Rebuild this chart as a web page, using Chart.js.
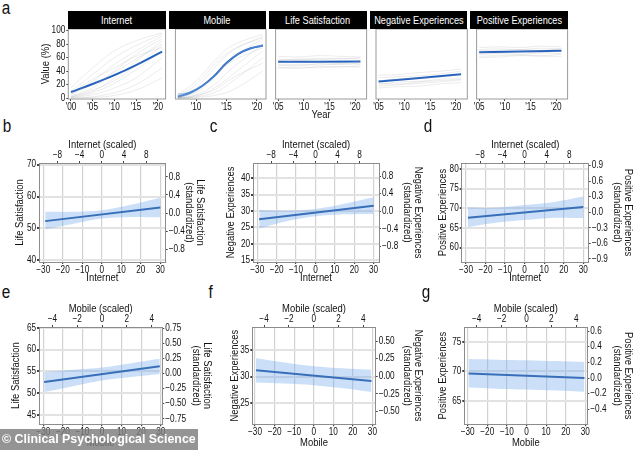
<!DOCTYPE html>
<html>
<head>
<meta charset="utf-8">
<script src="https://cdn.jsdelivr.net/npm/chart.js@4.4.0/dist/chart.umd.min.js"></script>
<style>
  body { margin: 0; background: #fff; }
  #fig { position: relative; width: 634px; height: 450px; overflow: hidden; background: #fff;
         font-family: 'Liberation Sans', Arial, sans-serif; }
  #fig canvas { position: absolute; }
  .hdr { position: absolute; top: 11px; height: 18px; background: #000; color: #fff;
         font-size: 11.5px; line-height: 18px; white-space: nowrap;
         display: flex; justify-content: center; }
  .hdr span { flex-shrink: 0; display: inline-block; transform: scaleX(0.8); }
  .letter span { display: inline-block; transform: scaleX(0.85); }
  .letter { position: absolute; font-size: 18px; color: #111; line-height: 1; }
  .wm { position: absolute; height: 21px; background: rgba(125,125,125,0.82);
        color: #fff; font: bold 12.4px 'Liberation Sans', Arial, sans-serif; line-height: 21px; padding-left: 2px;
        white-space: nowrap; box-sizing: border-box; }
</style>
</head>
<body>
<div id="fig"></div>
<script>
// ---------- panel a: yearly country trajectories + overall trend ----------
const trendTitles = ['Internet', 'Mobile', 'Life Satisfaction', 'Negative Experiences', 'Positive Experiences'];
const valueTicks = [0, 20, 40, 60, 80, 100];
const internetYearTicks = [2000, 2005, 2010, 2015, 2020];
const mobileYearTicks = [2010, 2015, 2020];
const wellbeingYearTicks = [2005, 2010, 2015, 2020];

const internetYears = [2000, 2005, 2010, 2015, 2021];
const internetTrend = [9, 21, 34, 49, 69];
const internetCountries = [
  [2, 10, 30, 55, 85], [5, 25, 50, 70, 92], [10, 35, 60, 78, 95], [1, 5, 15, 30, 60],
  [0, 2, 8, 20, 45], [3, 15, 40, 65, 88], [15, 45, 70, 85, 97], [0, 1, 4, 12, 30],
  [6, 20, 38, 58, 80], [1, 8, 22, 42, 70], [8, 28, 45, 62, 75], [2, 12, 26, 48, 78]
];

const mobileYears = [2007, 2009, 2011, 2013, 2015, 2017, 2019, 2021];
const mobileTrend = [2, 8, 18, 33, 52, 66, 74, 78];
const mobileUpper = [7, 10, 19, 34, 53, 67, 75, 80];
const mobileLower = [-1, 6, 17, 32, 51, 65, 73, 76];
const mobileCountryYears = [2007, 2010, 2013, 2016, 2021];
const mobileCountries = [
  [0, 5, 20, 45, 80], [2, 15, 45, 70, 92], [0, 2, 8, 25, 60], [5, 25, 55, 78, 95],
  [0, 1, 4, 12, 40], [1, 8, 30, 60, 88], [0, 3, 15, 35, 70], [3, 20, 50, 72, 90],
  [1, 10, 35, 55, 75], [0, 4, 12, 30, 52]
];

const wellbeingYears = [2005, 2009, 2013, 2017, 2021];
const trendEnds = [2005, 2021];
const lifeSatTrend = [53.8, 54.2];
const negativeTrend = [24.6, 35.3];
const positiveTrend = [68, 70.4];
const lifeSatCountries = [
  [48, 50, 49, 51, 50], [58, 57, 59, 58, 60], [44, 46, 45, 47, 46], [62, 61, 63, 62, 61],
  [53, 55, 54, 52, 55], [50, 48, 51, 50, 52], [56, 58, 57, 59, 58], [46, 44, 47, 46, 48]
];
const negativeCountries = [
  [18, 20, 22, 24, 27], [30, 32, 33, 36, 40], [22, 21, 24, 26, 28], [26, 28, 30, 31, 35],
  [15, 17, 18, 21, 23], [34, 35, 38, 40, 43], [20, 24, 25, 28, 30]
];
const positiveCountries = [
  [72, 73, 72, 74, 73], [62, 63, 64, 63, 65], [68, 67, 69, 68, 70], [75, 76, 75, 77, 76],
  [65, 66, 65, 67, 66], [70, 71, 72, 71, 73], [60, 61, 63, 62, 62]
];

// ---------- panels b-g: predicted wellbeing by technology use ----------
const internetTicks = [-30, -20, -10, 0, 10, 20, 30];
const internetScaledTicks = [-8, -4, 0, 4, 8];
const mobileTicks = [-30, -20, -10, 0, 10, 20, 30];
const mobileScaledTicks = [-4, -2, 0, 2, 4];
const internetSD = 2.85;
const mobileSD = 6.35;

const internetFitX = [-29, 30];
const internetBandX = [-29, -15, 0, 15, 30];
const mobileFitX = [-29.5, 29.5];
const mobileBandX = [-29.5, -15, 0, 15, 29.5];

// b: life satisfaction ~ internet
const lifeSatInternetFit = [52.3, 56.6];
const lifeSatInternetUpper = [55.2, 55.2, 55.7, 57.4, 59.6];
const lifeSatInternetLower = [49.7, 51.4, 53.1, 53.6, 53.5];
// c: negative experiences ~ internet
const negInternetFit = [27.5, 31.6];
const negInternetUpper = [30.3, 30.1, 30.6, 32.2, 34.2];
const negInternetLower = [24.7, 26.9, 28.4, 29.0, 29.1];
// d: positive experiences ~ internet
const posInternetFit = [67.6, 70.3];
const posInternetUpper = [70.2, 70.1, 70.8, 71.6, 73.0];
const posInternetLower = [65.2, 66.3, 67.0, 67.6, 67.5];
// e: life satisfaction ~ mobile
const lifeSatMobileFit = [52.55, 56.2];
const lifeSatMobileUpper = [54.85, 55.4, 55.9, 56.9, 57.9];
const lifeSatMobileLower = [50.25, 51.6, 52.9, 53.7, 54.4];
// f: negative experiences ~ mobile
const negMobileFit = [31.2, 29.2];
const negMobileUpper = [33.5, 32.7, 32.0, 31.6, 31.3];
const negMobileLower = [28.9, 28.7, 28.4, 27.8, 27.1];
// g: positive experiences ~ mobile
const posMobileFit = [69.65, 68.9];
const posMobileUpper = [72.1, 72.0, 71.9, 71.75, 71.6];
const posMobileLower = [67.3, 67.1, 66.95, 66.8, 66.6];

// outcome axis ticks, and centre / SD used for the standardized axis
const lifeSatTicks1 = [40, 50, 60, 70];
const negTicks1 = [15, 20, 25, 30, 35, 40];
const posTicks1 = [60, 65, 70, 75, 80];
const lifeSatTicks2 = [45, 50, 55, 60, 65];
const negTicks2 = [25, 30, 35];
const posTicks2 = [65, 70, 75];
const zTicksWide = [-0.8, -0.4, 0, 0.4, 0.8];
const zTicksPos1 = [-0.9, -0.6, -0.3, 0, 0.3, 0.6, 0.9];
const zTicksLife2 = [-0.75, -0.5, -0.25, 0, 0.25, 0.5, 0.75];
const zTicksNeg2 = [-0.5, -0.25, 0, 0.25, 0.5];
const zTicksPos2 = [-0.4, -0.2, 0, 0.2, 0.4, 0.6];
const outcomeCentre = [54.8, 29.9, 69.0, 54.5, 30.1, 68.9];
const outcomeSD = [14.2, 13.4, 13.2, 13.85, 13.3, 13.2];

// ---------- helpers ----------
Chart.defaults.font.family = "'Liberation Sans', Arial, sans-serif";
Chart.defaults.font.size = 10;
Chart.defaults.color = '#111';

const BAND = 'rgba(110, 170, 235, 0.36)';
const LINE = '#1a4f9c';
const TREND = '#1f5fbf';
const EDGE = '#8c8c8c';
const GREY = 'rgba(165, 165, 165, 0.3)';

// no condensed face is installed, so squeeze canvas text sideways
const SQUEEZE = 0.82;
Chart.register({
  id: 'narrowText',
  beforeInit(chart) {
    const ctx = chart.ctx;
    const fill = ctx.fillText.bind(ctx);
    const measure = ctx.measureText.bind(ctx);
    ctx.fillText = (text, x, y) => {
      ctx.save();
      ctx.translate(x, y);
      ctx.scale(SQUEEZE, 1);
      fill(text, 0, 0);
      ctx.restore();
    };
    ctx.measureText = text => {
      const m = measure(text);
      return { width: m.width * SQUEEZE,
               actualBoundingBoxAscent: m.actualBoundingBoxAscent,
               actualBoundingBoxDescent: m.actualBoundingBoxDescent };
    };
  }
});

const fig = document.getElementById('fig');

function pairs(xs, ys) {
  return xs.map((x, i) => ({ x: x, y: ys[i] }));
}
function setTicks(values) {
  return s => { s.ticks = values.map(v => ({ value: v })); };
}
function fitTo(size) {
  return s => {
    if (s.isHorizontal()) s.height = size; else s.width = size;
    s.paddingLeft = s.paddingRight = s.paddingTop = s.paddingBottom = 0;
  };
}
function fmt(digits) {
  return v => (v < 0 ? '\u2212' : '') + Math.abs(v).toFixed(digits);
}
function addCanvas(box) {
  const c = document.createElement('canvas');
  c.width = box[2] - box[0];
  c.height = box[3] - box[1];
  c.style.left = box[0] + 'px';
  c.style.top = box[1] + 'px';
  fig.appendChild(c);
  return c;
}
function addDiv(cls, text, left, top, width, squeeze) {
  const d = document.createElement('div');
  d.className = cls;
  d.style.left = left + 'px';
  d.style.top = top + 'px';
  if (width) d.style.width = width + 'px';
  if (squeeze) {
    const s = document.createElement('span');
    s.textContent = text;
    d.appendChild(s);
  } else {
    d.textContent = text;
  }
  fig.appendChild(d);
  return d;
}

// draws the grey box around a facet
const frame = {
  id: 'frame',
  afterDatasetsDraw(chart, args, opts) {
    const a = chart.chartArea, ctx = chart.ctx;
    ctx.save();
    ctx.strokeStyle = opts.color || EDGE;
    ctx.lineWidth = 1;
    ctx.strokeRect(a.left, a.top, a.right - a.left, a.bottom - a.top);
    ctx.restore();
  }
};

// ---------- panel a ----------
const aPlotLeft = [68.3, 168.7, 269.3, 370, 470.3];
const aPlotWidth = 97.3;
const aTop = 22, aPlotTop = 29, aPlotBottom = 99, aBottom = 122;

function trendPanel(i, xRange, xTicks, countryYears, countries, trendX, trend, band) {
  const left = aPlotLeft[i], right = left + aPlotWidth;
  const first = i === 0;
  const box = [first ? 39 : Math.floor(left) - 6, aTop, Math.ceil(right) + 6, aBottom];

  const datasets = countries.map(c => ({
    data: pairs(countryYears, c), borderColor: GREY, borderWidth: 0.7,
    pointRadius: 0, tension: 0.4, fill: false
  }));
  if (band) {
    datasets.push({ data: pairs(trendX, band[0]), borderWidth: 0, pointRadius: 0, tension: 0.4,
                    fill: '+1', backgroundColor: 'rgba(110, 170, 235, 0.5)' });
    datasets.push({ data: pairs(trendX, band[1]), borderWidth: 0, pointRadius: 0, tension: 0.4, fill: false });
  }
  datasets.push({ data: pairs(trendX, trend), borderColor: TREND, borderWidth: 2,
                  pointRadius: 0, tension: 0.4, fill: false });

  new Chart(addCanvas(box), {
    type: 'line',
    data: { datasets: datasets },
    plugins: [frame],
    options: {
      responsive: false, animation: false, events: [],
      layout: { padding: { top: aPlotTop - aTop, left: first ? 0 : left - box[0], right: box[2] - right, bottom: 0 } },
      plugins: { legend: { display: false }, tooltip: { enabled: false }, frame: { color: '#9a9a9a' } },
      scales: {
        x: {
          type: 'linear', min: xRange[0], max: xRange[1],
          afterBuildTicks: setTicks(xTicks), afterFit: fitTo(aBottom - aPlotBottom),
          grid: { drawOnChartArea: false, tickLength: 2, tickColor: '#444' },
          border: { display: false },
          ticks: { callback: v => "'" + String(v).slice(2), padding: 0, maxRotation: 0, autoSkip: false },
          title: { display: i === 2, text: 'Year', padding: 0, font: { size: 11.5 } }
        },
        y: {
          display: first, min: -1.3, max: 102.5,
          afterBuildTicks: setTicks(valueTicks), afterFit: fitTo(left - box[0]),
          grid: { drawOnChartArea: false, tickLength: 2, tickColor: '#444' },
          border: { display: false },
          ticks: { padding: 1, autoSkip: false },
          title: { display: true, text: 'Value (%)', padding: 0, font: { size: 11.5 } }
        }
      }
    }
  });
  addDiv('hdr', trendTitles[i], left, 11, aPlotWidth, true);
}

trendPanel(0, [1999.4, 2021.8], internetYearTicks, internetYears, internetCountries, internetYears, internetTrend);
trendPanel(1, [2006.6, 2021.5], mobileYearTicks, mobileCountryYears, mobileCountries, mobileYears, mobileTrend, [mobileUpper, mobileLower]);
trendPanel(2, [2004.5, 2022.2], wellbeingYearTicks, wellbeingYears, lifeSatCountries, trendEnds, lifeSatTrend);
trendPanel(3, [2004.5, 2022.2], wellbeingYearTicks, wellbeingYears, negativeCountries, trendEnds, negativeTrend);
trendPanel(4, [2004.5, 2022.2], wellbeingYearTicks, wellbeingYears, positiveCountries, trendEnds, positiveTrend);

// ---------- panels b-g ----------
function regressionPanel(p) {
  const [cl, ct, cr, cb] = p.canvas;
  const [pl, pt, pr, pb] = p.plot;
  const tickCfg = { padding: 0, maxRotation: 0, autoSkip: false };
  new Chart(addCanvas(p.canvas), {
    type: 'line',
    data: {
      datasets: [
        { data: pairs(p.bandX, p.upper), xAxisID: 'x', yAxisID: 'y', borderWidth: 0, pointRadius: 0,
          tension: 0.3, fill: '+1', backgroundColor: BAND },
        { data: pairs(p.bandX, p.lower), xAxisID: 'x', yAxisID: 'y', borderWidth: 0, pointRadius: 0,
          tension: 0.3, fill: false },
        { data: pairs(p.fitX, p.fit), xAxisID: 'x', yAxisID: 'y', borderColor: LINE, borderWidth: 2,
          pointRadius: 0, fill: false }
      ]
    },
    options: {
      responsive: false, animation: false, events: [],
      plugins: { legend: { display: false }, tooltip: { enabled: false } },
      scales: {
        x: {
          type: 'linear', position: 'bottom', min: p.xr[0], max: p.xr[1],
          afterBuildTicks: setTicks(p.xTicks), afterFit: fitTo(cb - pb),
          grid: { color: '#d2d2d2', lineWidth: 1.2, tickLength: 2, tickColor: '#444' },
          border: { color: EDGE },
          ticks: Object.assign({ callback: fmt(0) }, tickCfg),
          title: { display: true, text: p.xName, padding: 0, font: { size: 11.5 } }
        },
        x2: {
          type: 'linear', position: 'top', min: p.xr[0] / p.k, max: p.xr[1] / p.k,
          afterBuildTicks: setTicks(p.scaledTicks), afterFit: fitTo(pt - ct),
          grid: { drawOnChartArea: false, tickLength: 2, tickColor: '#444' },
          border: { color: EDGE },
          ticks: Object.assign({ callback: fmt(0) }, tickCfg),
          title: { display: true, text: p.xName + ' (scaled)', padding: 0, font: { size: 11.5 } }
        },
        y: {
          position: 'left', min: p.yr[0], max: p.yr[1],
          afterBuildTicks: setTicks(p.yTicks), afterFit: fitTo(pl - cl),
          grid: { color: '#e2e2e2', lineWidth: 2, tickLength: 2, tickColor: '#444' },
          border: { color: EDGE },
          ticks: { callback: fmt(0), padding: 1, autoSkip: false },
          title: { display: true, text: p.yName, padding: 0, font: { size: 11.5 } }
        },
        y2: {
          position: 'right', min: (p.yr[0] - p.centre) / p.sd, max: (p.yr[1] - p.centre) / p.sd,
          afterBuildTicks: setTicks(p.zTicks), afterFit: fitTo(cr - pr),
          grid: { drawOnChartArea: false, tickLength: 2, tickColor: '#444' },
          border: { color: EDGE },
          ticks: { callback: fmt(p.zDigits), padding: 1, autoSkip: false },
          title: { display: true, text: [p.yName, '(standardized)'], padding: 0, font: { size: 11.5, lineHeight: 1.0 } }
        }
      }
    }
  });
}

const outcomeNames = trendTitles.slice(2);
const internetPanel = { xName: 'Internet', xTicks: internetTicks, scaledTicks: internetScaledTicks, k: internetSD,
                        xr: [-32.2, 32.8], fitX: internetFitX, bandX: internetBandX };
const mobilePanel = { xName: 'Mobile', xTicks: mobileTicks, scaledTicks: mobileScaledTicks, k: mobileSD,
                      fitX: mobileFitX, bandX: mobileBandX };

[
  Object.assign({}, internetPanel, { canvas: [13, 138, 206, 285], plot: [39, 163, 165.7, 262],
    yName: outcomeNames[0], yr: [39.5, 70.5], yTicks: lifeSatTicks1, zTicks: zTicksWide, zDigits: 1,
    fit: lifeSatInternetFit, upper: lifeSatInternetUpper, lower: lifeSatInternetLower, centre: outcomeCentre[0], sd: outcomeSD[0] }),
  Object.assign({}, internetPanel, { canvas: [224, 138, 424, 285], plot: [253, 163, 379, 262],
    yName: outcomeNames[1], yr: [14.5, 44.6], yTicks: negTicks1, zTicks: zTicksWide, zDigits: 1,
    fit: negInternetFit, upper: negInternetUpper, lower: negInternetLower, centre: outcomeCentre[1], sd: outcomeSD[1] }),
  Object.assign({}, internetPanel, { canvas: [436, 138, 634, 285], plot: [461.7, 163, 588.7, 262],
    yName: outcomeNames[2], yr: [56.35, 81.5], yTicks: posTicks1, zTicks: zTicksPos1, zDigits: 1,
    fit: posInternetFit, upper: posInternetUpper, lower: posInternetLower, centre: outcomeCentre[2], sd: outcomeSD[2] }),
  Object.assign({}, mobilePanel, { canvas: [9, 302, 213, 450], plot: [39, 327, 162.3, 424.3], xr: [-32.2, 30.8],
    yName: outcomeNames[0], yr: [42.85, 65.2], yTicks: lifeSatTicks2, zTicks: zTicksLife2, zDigits: 2,
    fit: lifeSatMobileFit, upper: lifeSatMobileUpper, lower: lifeSatMobileLower, centre: outcomeCentre[3], sd: outcomeSD[3] }),
  Object.assign({}, mobilePanel, { canvas: [228, 302, 424, 450], plot: [252.3, 327, 375.7, 424.3], xr: [-31.4, 31.7],
    yName: outcomeNames[1], yr: [21.0, 39.4], yTicks: negTicks2, zTicks: zTicksNeg2, zDigits: 2,
    fit: negMobileFit, upper: negMobileUpper, lower: negMobileLower, centre: outcomeCentre[4], sd: outcomeSD[4] }),
  Object.assign({}, mobilePanel, { canvas: [436, 302, 634, 450], plot: [464.3, 327, 587.3, 424.3], xr: [-31.7, 31.0],
    yName: outcomeNames[2], yr: [61.1, 77.5], yTicks: posTicks2, zTicks: zTicksPos2, zDigits: 1,
    fit: posMobileFit, upper: posMobileUpper, lower: posMobileLower, centre: outcomeCentre[5], sd: outcomeSD[5] })
].forEach(regressionPanel);

// panel letters and credit
[['a', 1, -1], ['b', 2, 117], ['c', 209, 117], ['d', 423, 117], ['e', 1, 283], ['f', 208, 283], ['g', 421, 283]]
  .forEach(l => addDiv('letter', l[0], l[1], l[2], 0, true));
addDiv('wm', '\u00a9 Clinical Psychological Science', 0, 429, 198);
</script>
</body>
</html>
